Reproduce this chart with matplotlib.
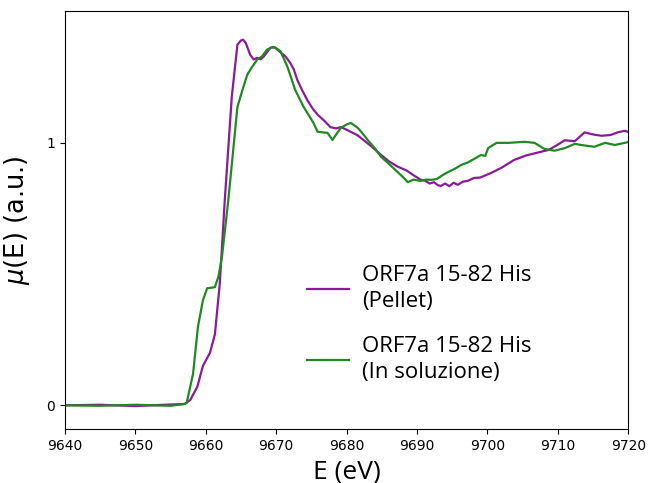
import matplotlib
matplotlib.use('Agg')
import matplotlib.pyplot as plt

# ORF7a 15-82 His (Pellet)
e_pellet = [9640, 9645, 9650, 9655, 9657.0, 9657.8, 9658.8, 9659.6, 9660.6, 9661.3,
            9662.0, 9662.7, 9663.7, 9664.5, 9665.0, 9665.3, 9665.7, 9666.3, 9666.8,
            9667.3, 9667.8, 9668.2, 9668.7, 9669.2, 9669.9, 9670.6, 9671.3, 9672.0,
            9672.5, 9673.0, 9673.7, 9674.4, 9675.2, 9675.9, 9676.8, 9677.7, 9678.5,
            9679.2, 9680.0, 9680.6, 9681.5, 9682.4, 9683.6, 9684.9, 9686.0, 9687.2,
            9688.5, 9689.6, 9690.5, 9691.2, 9691.8, 9692.4, 9693.0, 9693.4, 9694.0,
            9694.6, 9695.2, 9695.8, 9696.5, 9697.2, 9698.1, 9699.0, 9700.5, 9702.0,
            9703.8, 9705.5, 9707.0, 9708.7, 9709.8, 9711.0, 9712.4, 9713.8, 9715.0,
            9716.2, 9717.5, 9718.5, 9719.5, 9720.2]
mu_pellet = [0.0, 0.002, -0.003, 0.003, 0.005, 0.02, 0.07, 0.15, 0.2, 0.27,
             0.465, 0.78, 1.176, 1.374, 1.39, 1.393, 1.38, 1.336, 1.318,
             1.324, 1.318, 1.328, 1.345, 1.363, 1.363, 1.345, 1.33, 1.305,
             1.28, 1.24, 1.2, 1.164, 1.13, 1.107, 1.085, 1.06, 1.055,
             1.06, 1.05, 1.042, 1.03, 1.011, 0.985, 0.954, 0.93, 0.91,
             0.895, 0.875, 0.86, 0.855, 0.845, 0.85, 0.838, 0.836, 0.845,
             0.835, 0.848, 0.84, 0.852, 0.855, 0.866, 0.868, 0.885, 0.905,
             0.935, 0.952, 0.962, 0.973, 0.99, 1.01, 1.006, 1.04, 1.032,
             1.027, 1.03, 1.04, 1.046, 1.04]

# ORF7a 15-82 His (In soluzione)
e_sol = [9640, 9645, 9650, 9655, 9657.0, 9657.3, 9658.2, 9658.9, 9659.6, 9660.2,
         9661.3, 9661.8, 9662.3, 9663.2, 9664.5, 9665.2, 9665.9, 9666.6, 9667.3,
         9668.0, 9668.7, 9669.6, 9670.6, 9671.6, 9672.7, 9673.9, 9675.3, 9675.9,
         9676.6, 9677.3, 9678.0, 9678.6, 9679.2, 9680.0, 9680.6, 9681.6, 9682.3,
         9683.0, 9684.0, 9684.9, 9686.0, 9687.0, 9688.0, 9688.7, 9689.5, 9690.5,
         9691.3, 9692.0, 9692.8, 9693.7, 9694.5, 9695.3, 9696.3, 9697.2, 9698.2,
         9699.1, 9699.7, 9700.1, 9701.3, 9703.0, 9705.3, 9706.7, 9708.1, 9709.5,
         9711.0, 9712.4, 9713.8, 9715.2, 9716.7, 9718.1, 9720.2]
mu_sol = [0.0, -0.002, 0.002, -0.002, 0.005, 0.01, 0.12, 0.3, 0.4, 0.446,
          0.45, 0.49, 0.565, 0.78, 1.137, 1.2, 1.26, 1.29, 1.317,
          1.33, 1.355, 1.366, 1.35, 1.29, 1.202, 1.137, 1.076, 1.042,
          1.04, 1.038, 1.011, 1.035, 1.057, 1.07, 1.076, 1.057, 1.035,
          1.011, 0.98, 0.947, 0.92, 0.895, 0.87, 0.85, 0.86, 0.855,
          0.86, 0.859, 0.862, 0.878, 0.89, 0.9, 0.916, 0.925, 0.94,
          0.954, 0.95, 0.98, 1.0, 1.0, 1.004, 1.0, 0.977, 0.97,
          0.98, 0.996, 0.99, 0.985, 1.0, 0.992, 1.004]

fig = plt.figure(figsize=(6.49, 4.83), dpi=100)
ax = fig.add_axes([0.1, 0.112, 0.868, 0.865])
ax.plot(e_pellet, mu_pellet, color='#8b1a9a', lw=1.6, label='ORF7a 15-82 His\n(Pellet)')
ax.plot(e_sol, mu_sol, color='#1f8a1f', lw=1.6, label='ORF7a 15-82 His\n(In soluzione)')
ax.set_xlim(9640, 9720)
ax.set_ylim(-0.09, 1.502)
ax.set_xticks(range(9640, 9721, 10))
ax.set_yticks([0, 1])
ax.tick_params(labelsize=10)
ax.set_ylabel(r'$\mu$(E) (a.u.)', fontsize=18.5, labelpad=10)
ax.set_xlabel('E (eV)', fontsize=19, family='Open Sans', labelpad=5)

leg = ax.legend(loc='upper left', bbox_to_anchor=(0.395, 0.44), frameon=False,
                prop={'family': 'Open Sans', 'size': 16}, handlelength=1.85,
                handletextpad=0.6, labelspacing=1.1)
for t in leg.get_texts():
    t.set_linespacing(1.3)

fig.savefig('out.png', dpi=100)
